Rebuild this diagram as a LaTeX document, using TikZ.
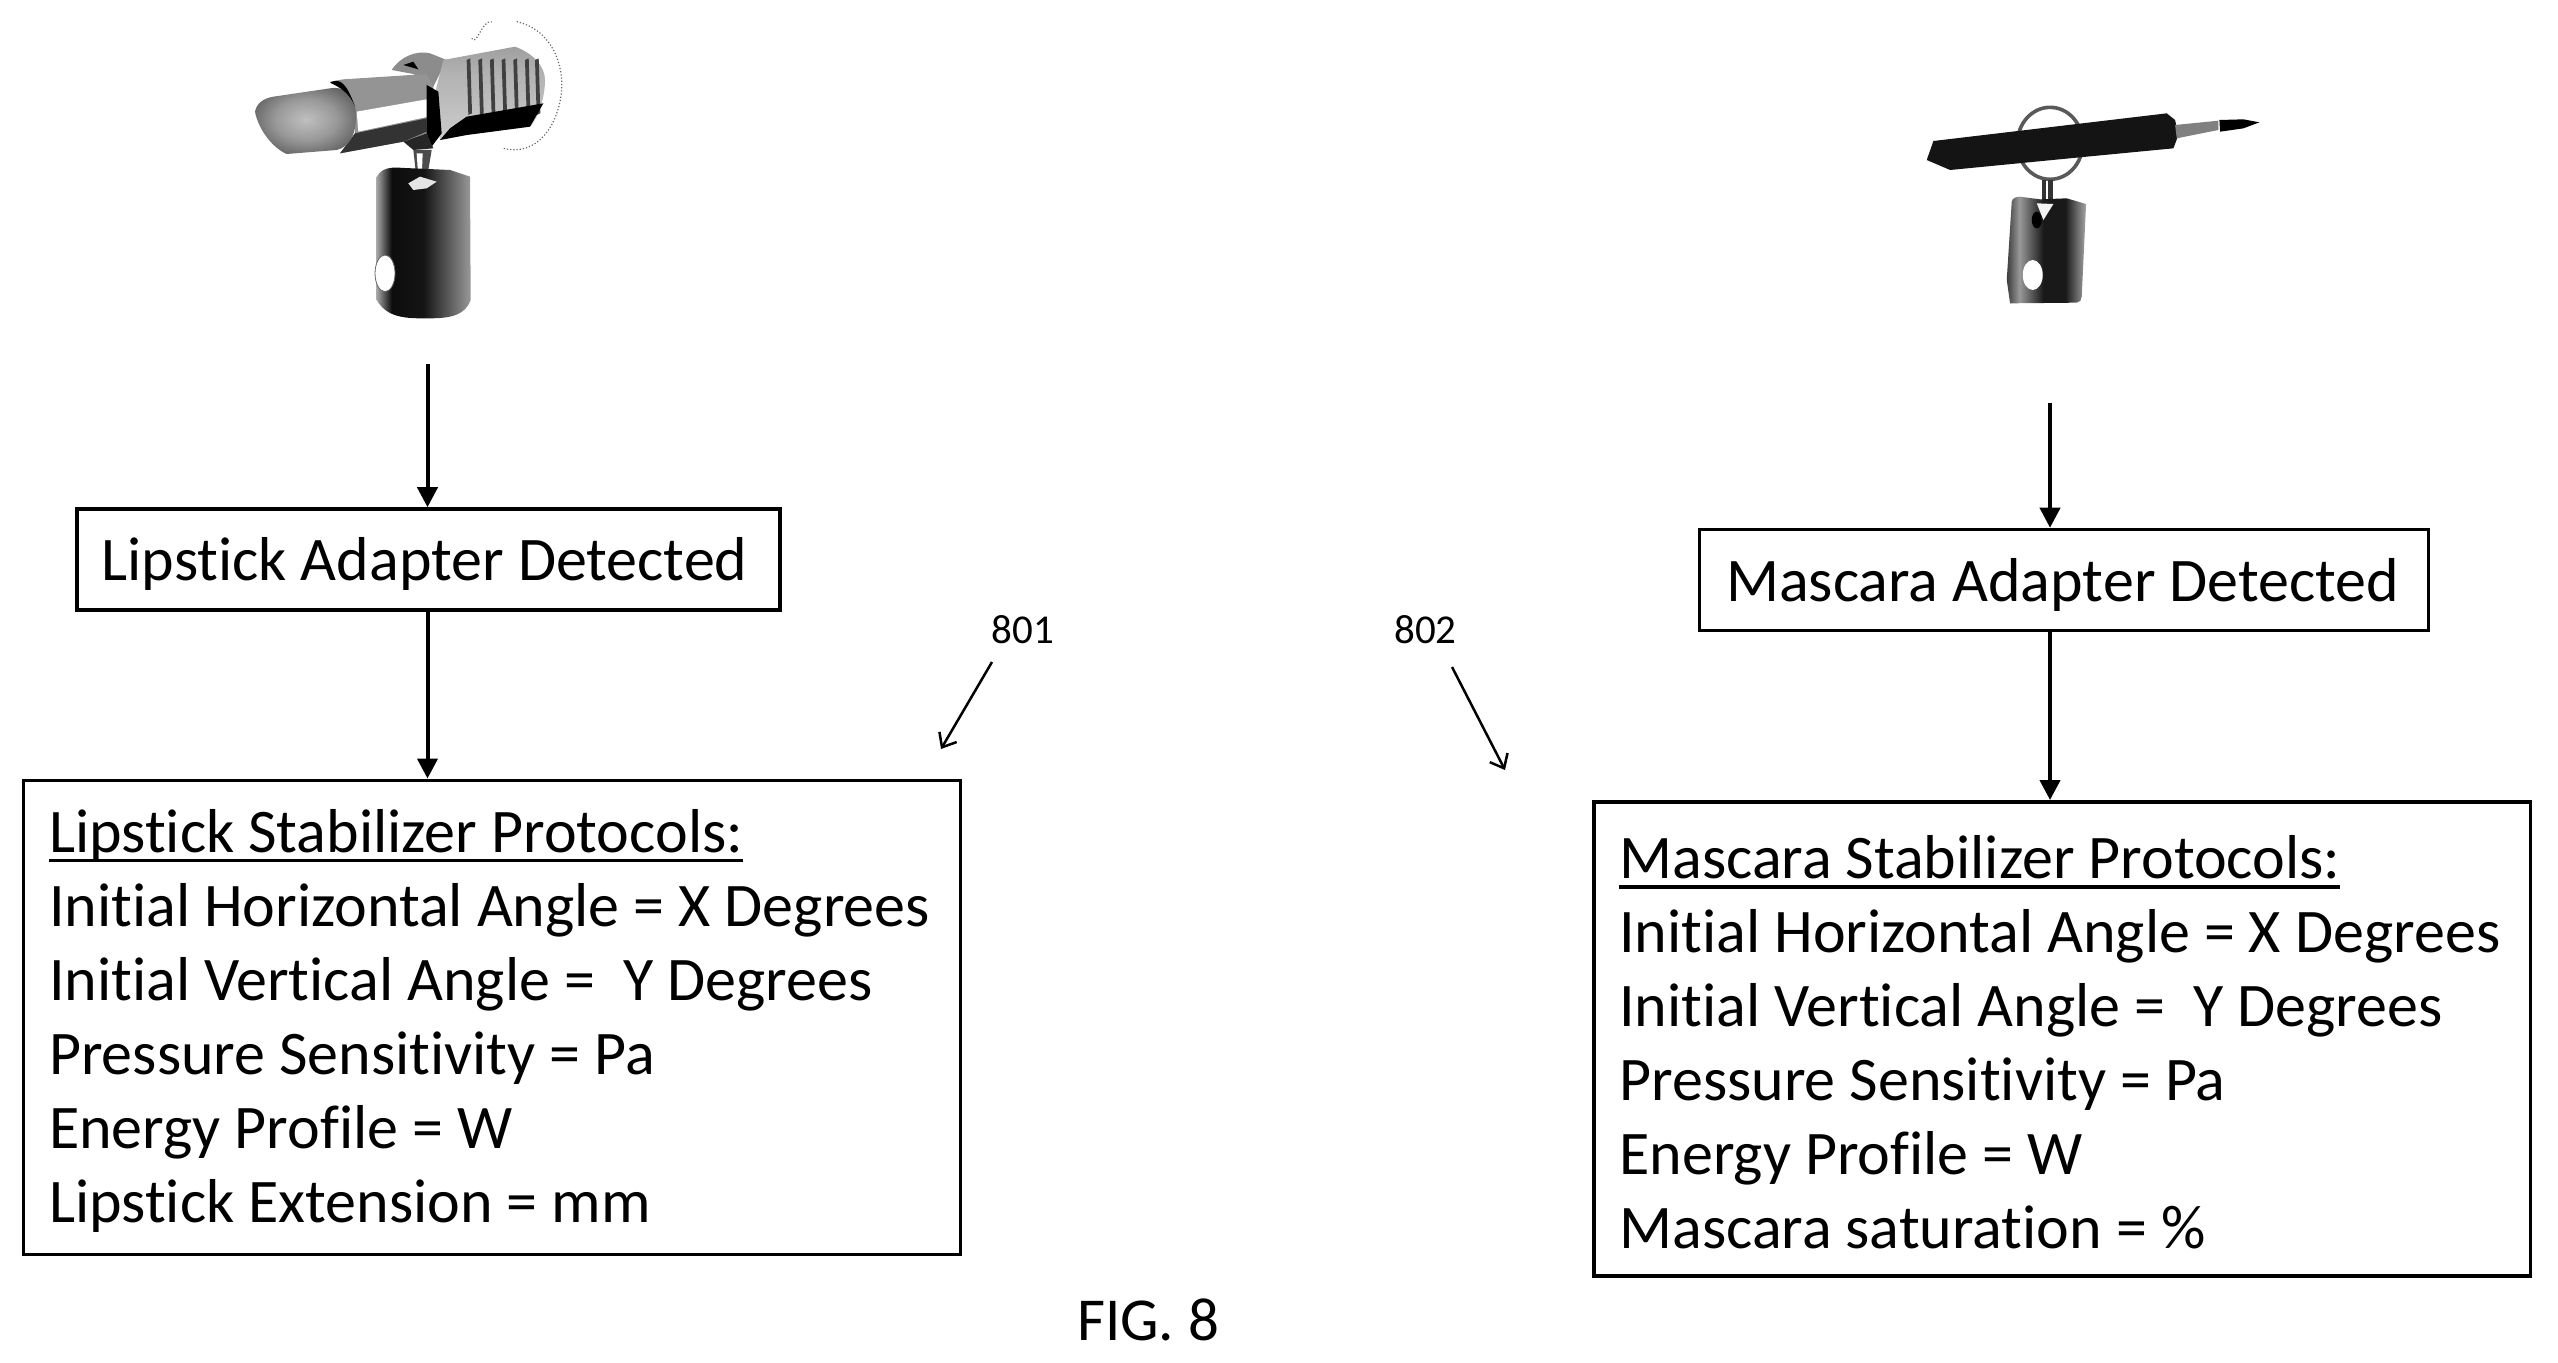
\documentclass[tikz,border=0pt]{standalone}
\usepackage{fontspec}
\setmainfont[Ligatures=NoCommon]{Carlito}
\usetikzlibrary{positioning,arrows.meta}
\newcommand\headline[1]{\setbox0\hbox{#1}\rule{0pt}{25pt}\rlap{\rule[-5pt]{\wd0}{1.8pt}}\box0}
\pgfdeclarehorizontalshading{lipbarrel}{100bp}{color(0bp)=(black!75); color(15bp)=(black!70); color(25bp)=(black!35); color(33bp)=(black!95); color(50bp)=(black!92); color(75bp)=(black!40); color(93bp)=(black!60); color(100bp)=(black)}
\pgfdeclarehorizontalshading{masbarrel}{100bp}{color(0bp)=(black); color(20bp)=(black); color(33bp)=(black!40); color(48bp)=(black!90); color(62bp)=(black!90); color(75bp)=(black!35); color(90bp)=(black!50); color(100bp)=(black!85)}
\pgfdeclareverticalshading{lipthread}{100bp}{color(0bp)=(black!40); color(25bp)=(black!20); color(60bp)=(black!30); color(100bp)=(black!50)}
\pgfdeclareradialshading{lipbullet}{\pgfpoint{0bp}{0bp}}{color(0bp)=(black!25); color(15bp)=(black!40); color(30bp)=(black!65); color(50bp)=(black!70)}

\begin{document}
\begin{tikzpicture}[x=0.5pt,y=-0.5pt,node distance=83.4pt,
    action/.style={rectangle,draw=black,line width=1.75pt,inner sep=0pt,font=\fontsize{31}{37}\selectfont},
    detected/.style={action,minimum height=50.5pt,text height=28pt,text depth=6.6pt},
    protocols/.style={action,text width=443pt,inner xsep=12.7pt,minimum height=237pt,align=flush left},
    arrow/.style={-{Triangle[length=10pt,width=10pt]},line width=2pt},
    pointer/.style={-{Straight Barb[length=6pt,width=10pt]},line width=1.25pt},
    number/.style={font=\fontsize{20.5}{21}\selectfont,inner sep=0pt}
    ]
    \useasboundingbox (0,0) rectangle (2558,1363);

    \node[detected,minimum width=351.5pt] (lipdetect) at (428.5,559.5) {\hspace*{-4pt}Lipstick Adapter Detected};
    \node[protocols,below=of lipdetect,xshift=31.75pt] (lipprotocols) {\headline{Lipstick Stabilizer Protocols:}\\
      Initial Horizontal Angle = X Degrees\\
      Initial Vertical Angle =~ Y Degrees\\
      Pressure Sensitivity = Pa\\
      Energy Profile = W\\
      Lipstick Extension = mm};

    \node[detected,minimum width=364.5pt] (masdetect) at (2064,580) {\hspace*{-1.5pt}Mascara Adapter Detected};
    \node[protocols,below=83.9pt of masdetect,xshift=-0.85pt] (masprotocols) {\headline{Mascara Stabilizer Protocols:}\\
      Initial Horizontal Angle = X Degrees\\
      Initial Vertical Angle =~ Y Degrees\\
      Pressure Sensitivity = Pa\\
      Energy Profile = W\\
      Mascara saturation = \%};

    \node[number] (n801) at (1023,630) {801};
    \node[number] (n802) at (1425.5,630) {802};
    \node[font=\fontsize{30.5}{32}\selectfont,inner sep=0pt] (fig) at (1148,1320) {FIG. 8};

    \coordinate (lipbase) at (427.5,364);
    \coordinate (masbase) at (2050,403);
    \coordinate (lipstart) at (992,662);
    \coordinate (lipend) at (941,749);
    \coordinate (masstart) at (1452,667);
    \coordinate (masend) at (1505,770);

    \draw[arrow] (lipbase) to (lipbase |- lipdetect.north);
    \draw[arrow] (lipbase |- lipdetect.south) to (lipbase |- lipprotocols.north);
    \draw[arrow] (masbase) to (masbase |- masdetect.north);
    \draw[arrow] (masbase |- masdetect.south) to (masbase |- masprotocols.north);
    \draw[pointer] (lipstart) to (lipend);
    \draw[pointer] (masstart) to (masend);

    % lipstick adapter
    \begin{scope}[x=0.16667pt,y=-0.16667pt,shift={(600,0)}]
      \draw[black!60,densely dotted,line width=0.6pt] (815,115) to [out=-60,in=170] (875,65);
      \draw[black!60,densely dotted,line width=0.6pt] (950,65) .. controls (1060,90) and (1090,200) .. (1085,270) .. controls (1075,380) and (1010,470) .. (910,445);
      % thread
      \fill[black!45] (575,210) .. controls (600,170) and (650,150) .. (690,160) -- (740,180) -- (700,260) -- (640,222) -- cycle;
      \fill[black] (610,195) -- (640,185) -- (655,208) -- cycle;
      \shade[shading=lipthread] (730,180) -- (945,140) .. controls (1000,160) and (1035,200) .. (1035,240) .. controls (1035,300) and (1010,360) .. (990,380) -- (800,405) -- (720,420) -- (700,300) -- cycle;
      \foreach \ribx in {800,835,870,905,940,975,1005} {
        \fill[black!75] (\ribx,180) -- (\ribx+11,175) -- (\ribx+16,340) -- (\ribx+5,345) -- cycle;
      }
      \fill[black] (750,385) -- (800,350) -- (1030,310) -- (990,380) -- (800,405) -- (720,420) -- cycle;
      % tube and bullet
      \fill[black!42] (390,245) -- (430,238) -- (680,222) -- (700,260) -- (710,390) -- (610,425) -- (420,460) -- (465,400) -- (465,320) -- (440,265) -- cycle;
      \fill[white] (470,335) -- (680,298) -- (685,350) -- (475,395) -- cycle;
      \fill[black!80] (465,400) -- (680,355) -- (680,395) -- (610,425) -- (420,460) -- cycle;
      \shade[shading=lipbullet] (165,335) .. controls (170,310) and (190,295) .. (220,290) -- (390,265) .. controls (430,255) and (465,290) .. (468,340) .. controls (470,400) and (450,440) .. (410,450) -- (260,462) .. controls (220,445) and (175,390) .. cycle;
      \fill[black] (390,248) .. controls (420,232) and (440,250) .. (465,320) .. controls (450,280) and (420,262) .. cycle;
      \fill[black] (680,255) -- (715,275) -- (725,400) -- (695,440) -- (680,400) -- cycle;
      \fill[black!85] (610,425) -- (680,400) -- (700,445) -- (640,450) -- cycle;
      % stem and barrel
      \fill[black!70] (640,450) -- (695,450) -- (680,540) -- (650,540) -- cycle;
      \fill[white] (650,460) -- (668,460) -- (665,535) -- (655,535) -- cycle;
      \shade[shading=lipbarrel] (530,530) to [out=60,in=180] (640,505) -- (750,510) -- (810,530) -- (812,900) to [out=-110,in=0] (670,955) to [out=180,in=-60] (530,900) -- cycle;
      \fill[black!10] (625,550) -- (660,530) -- (710,545) -- (680,565) -- (640,570) -- cycle;
      \fill[white,draw=black!60] (555,820) ellipse [x radius=30,y radius=55];
    \end{scope}

    % mascara adapter
    \begin{scope}[x=0.16667pt,y=-0.16667pt,shift={(5640,240)}]
      \draw[black!65,line width=1.8pt] (510,190) ellipse [x radius=98,y radius=108];
      \fill[black!92] (160,183) -- (860,100) -- (885,120) -- (895,165) -- (880,205) -- (620,230) -- (210,270) -- (140,240) -- cycle;
      \fill[black!50] (885,135) -- (1015,122) -- (1015,150) -- (890,175) -- cycle;
      \fill[black] (1018,120) -- (1090,118) -- (1138,127) -- (1090,145) -- (1020,155) -- cycle;
      \fill[black!80] (487,300) rectangle (497,360);
      \fill[black!80] (505,300) rectangle (519,360);
      \shade[shading=masbarrel] (395,365) to [out=80,in=180] (420,350) -- (480,358) -- (560,355) -- (618,372) -- (605,650) to [out=-90,in=0] (590,668) -- (390,670) -- (380,600) -- cycle;
      \fill[black!5] (470,370) -- (520,372) -- (490,420) -- cycle;
      \fill[black] (470,420) ellipse [x radius=15,y radius=25];
      \fill[white] (458,585) ellipse [x radius=30,y radius=45];
    \end{scope}
\end{tikzpicture}
\end{document}
